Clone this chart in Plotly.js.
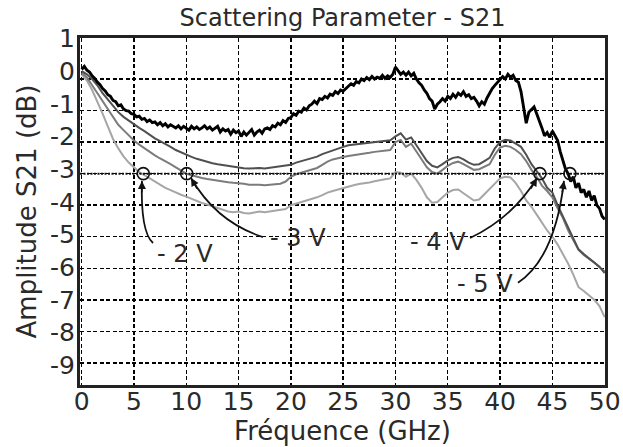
<!DOCTYPE html>
<html>
<head>
<meta charset="utf-8">
<script src="https://cdn.plot.ly/plotly-3.0.1.min.js"></script>
<style>html,body{margin:0;padding:0;background:#fff;}#chart{width:623px;height:447px;}</style>
</head>
<body>
<div id="chart"></div>
<script>
// ---- Data ----
// Frequency sampling of the traces (GHz)
const blackStart = 0, blackStep = 0.25;   // -5 V trace sampling
const grayStart = 0, grayStep = 0.5;      // -2/-3/-4 V trace sampling

// -5 V (black, noisy), 0 .. 50 GHz every 0.25 GHz
const s21_m5V = [
  0.30, 0.40, 0.28, 0.22,  0.10, 0.02, -0.10, -0.18,  -0.30, -0.38, -0.50, -0.55,
  -0.68, -0.72, -0.85, -0.82,  -0.95, -1.00, -1.02, -1.10,  -1.12, -1.20, -1.18, -1.28,
  -1.25, -1.35, -1.30, -1.38,  -1.36, -1.45, -1.38, -1.48,  -1.42, -1.52, -1.45, -1.50,
  -1.55, -1.48, -1.58, -1.50,  -1.55, -1.62, -1.50, -1.58,  -1.52, -1.60, -1.55, -1.48,
  -1.58, -1.52, -1.62, -1.55,  -1.50, -1.68, -1.58, -1.65,  -1.60, -1.75, -1.62, -1.70,
  -1.65, -1.82, -1.68, -1.78,  -1.70, -1.60, -1.78, -1.68,  -1.62, -1.72, -1.58, -1.55,
  -1.60, -1.48, -1.52, -1.40,  -1.45, -1.32, -1.38, -1.25,  -1.22, -1.10, -1.15, -1.02,
  -1.05, -0.92, -0.98, -0.85,  -0.80, -0.70, -0.78, -0.62,  -0.65, -0.55, -0.60, -0.48,
  -0.52, -0.40, -0.46, -0.35,  -0.38, -0.30, -0.25, -0.15,  -0.20, -0.08, -0.12, 0.00,
  -0.05, 0.05, -0.02, 0.08,  0.00, 0.06, 0.02, 0.12,  0.02, 0.10, 0.05, 0.15,
  0.38, 0.28, 0.15, 0.22,  0.12, 0.22, 0.10, 0.18,  0.00, -0.12, -0.20, -0.35,
  -0.45, -0.62, -0.70, -0.95,  -0.80, -0.72, -0.62, -0.70,  -0.55, -0.62, -0.48, -0.58,
  -0.45, -0.52, -0.40, -0.55,  -0.50, -0.62, -0.58, -0.70,  -0.85, -0.72, -0.80, -0.60,
  -0.45, -0.30, -0.20, -0.10,  -0.02, 0.08, 0.00, 0.15,  0.05, 0.12, -0.05, -0.10,
  -0.40, -0.85, -1.40, -1.05,  -0.95, -0.88, -1.10, -1.30,  -1.55, -1.80, -1.70, -1.85,
  -1.65, -1.80, -1.95, -2.30,  -2.60, -2.85, -3.00, -3.25,  -3.10, -3.45, -3.30, -3.60,
  -3.50, -3.75, -3.55, -3.85,  -3.70, -4.00, -4.10, -4.35,  -4.45
];

// -4 V (dark gray), 0 .. 50 GHz every 0.5 GHz
const s21_m4V = [
  0.25, 0.15, 0.00, -0.20, -0.45, -0.65, -0.88, -1.05, -1.20, -1.32,
  -1.43, -1.55, -1.65, -1.78, -1.88, -1.97, -2.05, -2.15, -2.25, -2.33,
  -2.41, -2.47, -2.53, -2.58, -2.63, -2.67, -2.70, -2.73, -2.76, -2.79,
  -2.81, -2.83, -2.84, -2.83, -2.82, -2.84, -2.82, -2.80, -2.78, -2.76,
  -2.72, -2.65, -2.60, -2.55, -2.50, -2.46, -2.38, -2.32, -2.25, -2.20,
  -2.15, -2.10, -2.08, -2.06, -2.04, -2.02, -2.00, -1.98, -1.96, -1.94,
  -1.82, -1.72, -1.92, -1.85, -2.10, -2.35, -2.60, -2.75, -2.80, -2.70,
  -2.58, -2.50, -2.47, -2.55, -2.65, -2.72, -2.70, -2.60, -2.50, -2.20,
  -2.00, -1.93, -1.95, -2.05, -2.15, -2.40, -2.70, -2.92, -3.15, -3.45,
  -3.60, -4.00, -4.35, -4.75, -5.05, -5.40, -5.55, -5.68, -5.80, -5.95,
  -6.15
];

// -3 V (medium gray)
const s21_m3V = [
  0.20, 0.05, -0.20, -0.45, -0.72, -0.95, -1.20, -1.45, -1.62, -1.80,
  -1.95, -2.08, -2.20, -2.32, -2.42, -2.52, -2.60, -2.70, -2.80, -2.90,
  -3.00, -3.05, -3.10, -3.14, -3.17, -3.20, -3.22, -3.25, -3.27, -3.29,
  -3.30, -3.32, -3.35, -3.34, -3.35, -3.37, -3.36, -3.34, -3.32, -3.25,
  -3.10, -3.02, -2.97, -2.92, -2.87, -2.82, -2.72, -2.62, -2.55, -2.50,
  -2.47, -2.44, -2.42, -2.40, -2.37, -2.34, -2.31, -2.29, -2.27, -2.25,
  -2.00, -1.93, -2.15, -2.05, -2.30, -2.55, -2.80, -2.95, -3.00, -2.88,
  -2.75, -2.66, -2.62, -2.70, -2.80, -2.88, -2.86, -2.78, -2.70, -2.40,
  -2.17, -2.12, -2.15, -2.25, -2.38, -2.60, -2.88, -3.10, -3.38, -3.55,
  -3.75, -4.10, -4.40, -4.80, -5.10, -5.42, -5.58, -5.70, -5.82, -5.97,
  -6.10
];

// -2 V (light gray)
const s21_m2V = [
  0.15, -0.05, -0.35, -0.70, -1.10, -1.50, -1.90, -2.20, -2.45, -2.65,
  -2.80, -2.95, -3.05, -3.15, -3.25, -3.35, -3.45, -3.52, -3.60, -3.67,
  -3.73, -3.80, -3.87, -3.93, -3.98, -4.03, -4.10, -4.15, -4.20, -4.22,
  -4.20, -4.25, -4.26, -4.23, -4.20, -4.22, -4.20, -4.18, -4.16, -4.12,
  -4.00, -3.95, -3.90, -3.86, -3.80, -3.75, -3.68, -3.60, -3.55, -3.50,
  -3.46, -3.40, -3.37, -3.33, -3.31, -3.28, -3.24, -3.20, -3.18, -3.15,
  -2.95, -2.97, -3.10, -3.00, -3.20, -3.45, -3.75, -3.92, -3.90, -3.75,
  -3.60, -3.52, -3.50, -3.62, -3.75, -3.85, -3.82, -3.65, -3.50, -3.30,
  -3.15, -3.10, -3.12, -3.30, -3.55, -3.85, -4.05, -4.30, -4.55, -4.80,
  -5.00, -5.25, -5.55, -5.85, -6.20, -6.60, -6.72, -6.85, -7.00, -7.20,
  -7.55
];

// -3 dB crossing points (circled in the reference)
const crossFreq = [5.89, 10.04, 43.8, 46.68];
const crossAmp = [-3, -3, -3, -3];

// Callout labels
const labelText = ['- 2 V', '- 3 V', '- 4 V', '- 5 V'];
const labelFreq = [9.89, 20.7, 34.06, 38.55];
const labelAmp = [-5.54, -5.04, -5.16, -6.49];

// Tick labels
const xTickVals = [0, 5, 10, 15, 20, 25, 30, 35, 40, 45, 50];
const xTickText = ['0', '5', '10', '15', '20', '25', '30', '35', '40', '45', '50'];
const yGridVals = [0, -1, -2, -3, -4, -5, -6, -7, -8, -9];
const yTickVals = [1, 0, -1, -2, -3, -4, -5, -6, -7, -8, -9];
const yTickText = ['1', '0', '-1', '-2', '-3', '-4', '-5', '-6', '-7', '-8', '-9'];

// ---- Styling ----
const FONT = 'DejaVu Sans, Liberation Sans, sans-serif';
const TXT = '#2a2a2a';

// Callout curves (quadratic paths, in data coordinates) and arrow tips
const calloutPaths = [
  'M 6.82,-5.20 Q 5.62,-4.85 5.76,-3.23',
  'M 17.33,-5.01 Q 12.93,-4.55 10.45,-3.14',
  'M 37.13,-5.04 Q 41.19,-4.40 43.53,-3.14',
  'M 41.71,-6.46 Q 45.25,-5.67 46.11,-3.23'
];
const tipX = [5.76, 10.45, 43.53, 46.11];
const tipY = [-3.23, -3.14, -3.14, -3.23];
const tipAx = [0, 7, -7, -2];
const tipAy = [13, 12, 12, 13];

const traces = [
  {x0: grayStart, dx: grayStep, y: s21_m2V, type: 'scatter', mode: 'lines', name: '-2 V',
   line: {color: '#a6a6a6', width: 2}},
  {x0: grayStart, dx: grayStep, y: s21_m3V, type: 'scatter', mode: 'lines', name: '-3 V',
   line: {color: '#7c7c7c', width: 2}},
  {x0: grayStart, dx: grayStep, y: s21_m4V, type: 'scatter', mode: 'lines', name: '-4 V',
   line: {color: '#505050', width: 2}},
  {x0: blackStart, dx: blackStep, y: s21_m5V, type: 'scatter', mode: 'lines', name: '-5 V',
   line: {color: '#000000', width: 2.9}},
  {x: crossFreq, y: crossAmp, type: 'scatter', mode: 'markers', name: 'crossings',
   marker: {symbol: 'circle-open', size: 12, color: '#111', line: {width: 1.6, color: '#111'}}},
  // dummy trace so the label axis is drawn
  {x: [null], y: [null], yaxis: 'y2', type: 'scatter', mode: 'markers', showlegend: false}
];

const shapes = [
  {type: 'line', xref: 'paper', x0: 0, x1: 1, yref: 'y', y0: -3, y1: -3,
   line: {color: '#111', width: 2, dash: '2px,1.5px'}, layer: 'above'}
];
calloutPaths.forEach(p => shapes.push({type: 'path', xref: 'x', yref: 'y', path: p,
  line: {color: '#111', width: 1.8}}));

const annotations = [];
labelText.forEach((t, i) => annotations.push({
  x: labelFreq[i], y: labelAmp[i], xref: 'x', yref: 'y', text: t, showarrow: false,
  font: {family: FONT, size: 24, color: TXT}, xanchor: 'center', yanchor: 'middle', bgcolor: 'rgba(0,0,0,0)'
}));
tipX.forEach((x, i) => annotations.push({
  x: x, y: tipY[i], xref: 'x', yref: 'y', text: '', showarrow: true,
  ax: tipAx[i], ay: tipAy[i], arrowhead: 2, arrowsize: 1, arrowwidth: 1.6, arrowcolor: '#111'
}));

const layout = {
  width: 623, height: 447,
  margin: {l: 80, r: 18, t: 38, b: 62, pad: 0},
  paper_bgcolor: '#fff', plot_bgcolor: '#fff',
  showlegend: false,
  font: {family: FONT, color: TXT},
  title: {text: 'Scattering Parameter - S21', x: 0.5, xref: 'paper', y: 0.96, yanchor: 'middle',
          font: {family: FONT, size: 24, color: TXT}},
  xaxis: {
    range: [-0.16, 50.03], tickvals: xTickVals, ticktext: xTickText,
    showgrid: true, gridcolor: '#000', gridwidth: 1.4, griddash: '4px,2.5px',
    showline: true, linecolor: '#222', linewidth: 3, mirror: true,
    ticks: '', zeroline: false, ticklabelstandoff: -8,
    tickfont: {family: FONT, size: 25, color: TXT},
    title: {text: 'Fréquence (GHz)', font: {family: FONT, size: 26, color: TXT}, standoff: 4}
  },
  yaxis: {
    range: [-9.70, 1.30], tickvals: yGridVals, showticklabels: false,
    showgrid: true, gridcolor: '#000', gridwidth: 1.4, griddash: '4px,2.5px',
    showline: true, linecolor: '#222', linewidth: 3, mirror: true,
    ticks: '', zeroline: false,
    title: {text: 'Amplitude S21 (dB)', font: {family: FONT, size: 26, color: TXT}, standoff: 33}
  },
  yaxis2: {
    overlaying: 'y', side: 'left', range: [-9.61, 1.02],
    tickvals: yTickVals, ticktext: yTickText, showgrid: false, zeroline: false,
    showline: false, ticks: '', ticklabelstandoff: 4,
    tickfont: {family: FONT, size: 25, color: TXT}
  },
  shapes: shapes,
  annotations: annotations
};

Plotly.newPlot('chart', traces, layout, {staticPlot: true, displayModeBar: false});
</script>
</body>
</html>
